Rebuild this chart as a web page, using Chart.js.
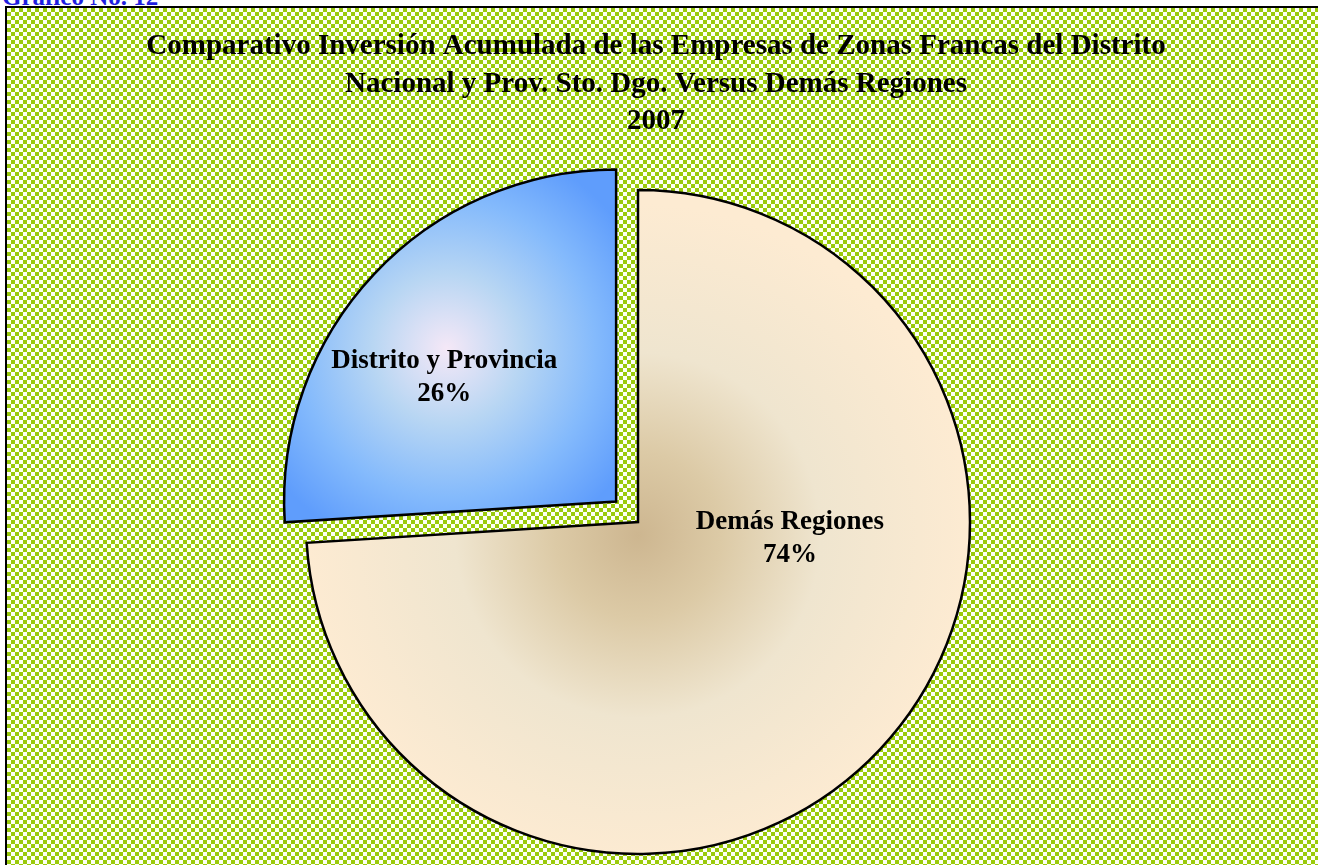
<!DOCTYPE html>
<html>
<head>
<meta charset="utf-8">
<script src="https://cdn.jsdelivr.net/npm/chart.js@4"></script>
<style>
  html, body { margin: 0; padding: 0; background: #fff; overflow: hidden; }
  #caption {
    position: absolute; left: 2px; top: -17px;
    font: bold 25px "Liberation Serif", serif; color: #1f1fe0;
  }
  #frame {
    position: absolute; left: 5px; top: 6px; width: 1330px; height: 880px;
    border: 2px solid #000;
    background: repeating-conic-gradient(#9acb0a 0 25%, #fdfff5 0 50%) 0 0 / 8px 8px;
  }
  #wrap { position: absolute; left: 0; top: 0; width: 1318px; height: 865px; }
</style>
</head>
<body>
<div id="caption">Gráfico No. 12</div>
<div id="frame"></div>
<div id="wrap"><canvas id="myChart"></canvas></div>
<script>
const categories = ['Demás Regiones', 'Distrito y Provincia'];
const values = [74, 26];
const percentLabels = ['74%', '26%'];
const titleLines = [
    'Comparativo Inversión Acumulada de las Empresas de Zonas Francas del Distrito',
    'Nacional y Prov. Sto. Dgo. Versus Demás Regiones',
    '2007'
];

const RADIUS = 332;

// gradient per slice, built around the pie centre
function sliceFill(context) {
    const chart = context.chart;
    const area = chart.chartArea;
    if (!area) return context.dataIndex === 0 ? '#f7e6c9' : '#6aa6fb';
    const cx = (area.left + area.right) / 2;
    const cy = (area.top + area.bottom) / 2;
    const c = chart.ctx;
    if (context.dataIndex === 0) {
        const gx = cx, gy = cy + 0.04 * RADIUS;
        const g = c.createRadialGradient(gx, gy, 0, gx, gy, RADIUS);
        g.addColorStop(0, '#cdb690');
        g.addColorStop(0.25, '#dccaa6');
        g.addColorStop(0.55, '#efe5cf');
        g.addColorStop(1, '#fdebd2');
        return g;
    }
    // the exploded slice is drawn translated, so this is relative to the moved slice
    const gx = cx - 0.51 * RADIUS, gy = cy - 0.46 * RADIUS;
    const g = c.createRadialGradient(gx, gy, 0, gx, gy, 0.64 * RADIUS);
    g.addColorStop(0, '#f5e8f7');
    g.addColorStop(0.35, '#b8d6f3');
    g.addColorStop(0.7, '#84bafc');
    g.addColorStop(1, '#5f9dfc');
    return g;
}

// label placement: angle from top (deg, clockwise) and fraction of radius
const labelSpots = [[96, 0.46], [306, 0.64]];

const sliceLabels = {
    id: 'sliceLabels',
    afterDatasetsDraw(chart) {
        const c = chart.ctx;
        const meta = chart.getDatasetMeta(0);
        c.save();
        c.fillStyle = '#000';
        c.font = 'bold 27px "Liberation Serif", serif';
        c.textAlign = 'center';
        c.textBaseline = 'middle';
        meta.data.forEach((arc, i) => {
            const off = (arc.options.offset || 0) / 4;
            const mid = (arc.startAngle + arc.endAngle) / 2;
            const ox = arc.x + Math.cos(mid) * off;
            const oy = arc.y + Math.sin(mid) * off;
            const a = labelSpots[i][0] * Math.PI / 180;
            const r = labelSpots[i][1] * arc.outerRadius;
            const x = ox + Math.sin(a) * r;
            const y = oy - Math.cos(a) * r;
            c.fillText(categories[i], x, y - 16);
            c.fillText(percentLabels[i], x, y + 17);
        });
        c.restore();
    }
};

// title drawn over the whole frame (centred on the frame, not on the pie)
const frameTitle = {
    id: 'frameTitle',
    afterDraw(chart) {
        const c = chart.ctx;
        c.save();
        c.fillStyle = '#000';
        c.font = 'bold 29px "Liberation Serif", serif';
        c.textAlign = 'center';
        c.textBaseline = 'middle';
        titleLines.forEach((line, i) => {
            c.fillText(line, 656, 47 + i * 37.5);
        });
        c.restore();
    }
};

const ctx = document.getElementById('myChart').getContext('2d');

new Chart(ctx, {
    type: 'pie',
    data: {
        labels: categories,
        datasets: [{
            data: values,
            backgroundColor: sliceFill,
            borderColor: '#000',
            borderWidth: 2.5,
            borderJoinStyle: 'miter',
            offset: [0, 120],
            radius: RADIUS
        }]
    },
    options: {
        responsive: true,
        maintainAspectRatio: false,
        animation: false,
        layout: {
            padding: { left: 20, right: 62, top: 179, bottom: 0 }
        },
        plugins: {
            legend: { display: false },
            tooltip: { enabled: false },
            title: { display: false }
        }
    },
    plugins: [sliceLabels, frameTitle]
});
</script>
</body>
</html>
